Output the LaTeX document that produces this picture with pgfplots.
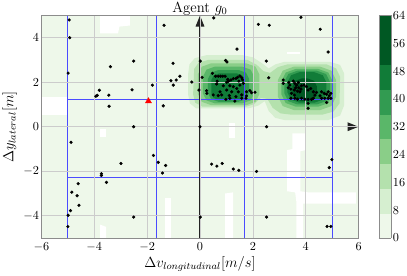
\documentclass[border=0pt]{standalone}
\usepackage{pgfplots}
\pgfplotsset{compat=1.18}
\usetikzlibrary{arrows.meta}
\definecolor{bg}{RGB}{238,248,234}
\definecolor{cA}{RGB}{214,239,208}
\definecolor{cB}{RGB}{180,225,173}
\definecolor{cC}{RGB}{138,206,136}
\definecolor{cD}{RGB}{90,183,105}
\definecolor{cE}{RGB}{50,155,81}
\definecolor{cF}{RGB}{17,124,56}
\definecolor{cG}{RGB}{0,88,35}
\definecolor{lblue}{RGB}{75,75,255}
\definecolor{arrowc}{RGB}{35,35,35}

\begin{document}
\begin{tikzpicture}
\begin{axis}[
  name=ax,
  scale only axis, width=258bp, height=181bp,
  xmin=-6, xmax=6, ymin=-5, ymax=5,
  xtick={-6,-4,...,6}, ytick={-4,-2,...,4},
  grid=major, grid style={black!20, line width=0.5bp},
  axis line style={black!45},
  major tick length=0pt,
  axis on top,
  axis background/.style={fill=bg},
  yticklabel style={xshift=1.5bp},
  title={Agent $g_0$},
  every axis title/.style={at={(axis description cs:0.5,1.0155)}, anchor=base, font=\large},
  xlabel={$\Delta v_{longitudinal}[m/s]$}, ylabel={$\Delta y_{lateral}[m]$},
  every axis x label/.style={at={(axis description cs:0.5,-0.131)}, anchor=base, font=\large},
  every axis y label/.style={at={(axis description cs:-0.0884,0.5)}, anchor=base, rotate=90, font=\large},
  unbounded coords=jump,
  colormap={greens}{rgb255=(238,248,234) rgb255=(214,239,208) rgb255=(180,225,173) rgb255=(138,206,136) rgb255=(90,183,105) rgb255=(50,155,81) rgb255=(17,124,56) rgb255=(0,88,35) rgb255=(0,88,35)},
  colormap access=piecewise constant,
  point meta min=0, point meta max=64,
  colorbar,
  colorbar shift/.style={xshift=16.6bp},
  colorbar style={width=9.8bp, ytick={0,8,...,64}, at={(parent axis.north east)}, anchor=north west, axis line style={black!45}, major tick length=0pt, yticklabel style={xshift=-2bp}},
]
% zero-density (white) patches
\addplot[fill=white, draw=none] coordinates {(-3.78,5) (-2.65,5) (-2.65,4.55) (-3.05,4.5) (-3.1,4.2) (-3.78,4.2)};
\addplot[fill=white, draw=none] coordinates {(-6,1.33) (-5.03,1.33) (-5.03,0.52) (-6,0.52)};
\addplot[fill=white, draw=none] coordinates {(-3.78,-0.1) (-3.55,-0.1) (-3.55,-0.45) (-3.78,-0.45)};
\addplot[fill=white, draw=none] coordinates {(-3.78,-4.4) (-3.55,-4.5) (-3.55,-5) (-3.78,-5)};
\addplot[fill=white, draw=none] coordinates {(-1.32,-3.2) (-1.1,-3.2) (-1.1,-5) (-1.32,-5)};
\addplot[fill=white, draw=none] coordinates {(1.1,0.15) (1.32,0.15) (1.32,-0.5) (1.1,-0.5)};
\addplot[fill=white, draw=none] coordinates {(0.95,-3.0) (1.25,-2.95) (1.25,-5) (0.95,-5)};
\addplot[fill=white, draw=none] coordinates {(3.5,-0.3) (4.0,-0.3) (4.0,-1.05) (3.8,-1.1) (3.8,-2.9) (4.1,-2.95) (5.9,-2.95) (5.9,-3.45) (3.9,-3.45) (3.9,-5) (3.65,-5) (3.65,-3.4) (3.6,-2.95) (3.3,-2.9) (3.3,-1.05) (3.5,-1.0)};
\addplot[fill=white, draw=none] coordinates {(3.3,3.38) (3.8,3.38) (3.8,3.25) (3.3,3.25)};

% density bands, levels 8 and 16 (joined)
\addplot[fill=cA, draw=none] coordinates {(-0.15,0.83) (1.85,0.83) (2.2,0.95) (2.45,1.15) (2.6,0.7) (2.85,0.4) (3.2,0.3) (4.85,0.3) (5.3,0.5) (5.45,0.95) (5.45,2.4) (5.3,2.78) (4.9,2.92) (3.2,2.92) (2.85,2.8) (2.6,2.62) (2.35,2.85) (2.0,3.12) (1.6,3.22) (0.25,3.22) (-0.2,3.08) (-0.4,2.8) (-0.45,2.35) (-0.45,1.45) (-0.38,1.05)};
\addplot[fill=cB, draw=none] coordinates {(0.1,0.9) (1.75,0.9) (2.05,1.02) (2.3,1.3) (2.55,1.25) (2.75,0.85) (3.05,0.6) (3.4,0.55) (4.65,0.55) (5.05,0.68) (5.28,1.05) (5.3,2.25) (5.15,2.62) (4.8,2.8) (3.3,2.8) (2.95,2.68) (2.65,2.42) (2.4,2.5) (2.15,2.78) (1.8,3.0) (0.3,3.0) (-0.05,2.88) (-0.22,2.6) (-0.26,1.45) (-0.18,1.08)};
% blob 1
\addplot[fill=cC, draw=none] coordinates {(0.42,0.97) (1.75,0.97) (2.10,1.12) (2.25,1.47) (2.25,2.35) (2.10,2.70) (1.75,2.85) (0.42,2.85) (0.07,2.70) (-0.08,2.35) (-0.08,1.47) (0.07,1.12)};
\addplot[fill=cD, draw=none] coordinates {(0.56,1.05) (1.60,1.05) (1.915,1.185) (2.05,1.50) (2.05,2.25) (1.915,2.565) (1.60,2.70) (0.56,2.70) (0.245,2.565) (0.11,2.25) (0.11,1.50) (0.245,1.185)};
\addplot[fill=cE, draw=none] coordinates {(0.70,1.12) (1.46,1.12) (1.74,1.24) (1.86,1.52) (1.86,2.15) (1.74,2.43) (1.46,2.55) (0.70,2.55) (0.42,2.43) (0.30,2.15) (0.30,1.52) (0.42,1.24)};
\addplot[fill=cF, draw=none] coordinates {(0.73,1.20) (1.39,1.20) (1.60,1.29) (1.69,1.50) (1.69,2.10) (1.60,2.31) (1.39,2.40) (0.73,2.40) (0.52,2.31) (0.43,2.10) (0.43,1.50) (0.52,1.29)};
% blob 2
\addplot[fill=cC, draw=none] coordinates {(3.55,0.75) (4.55,0.75) (4.97,0.93) (5.15,1.35) (5.15,2.10) (4.97,2.52) (4.55,2.70) (3.55,2.70) (3.13,2.52) (2.95,2.10) (2.95,1.35) (3.13,0.93)};
\addplot[fill=cD, draw=none] coordinates {(3.63,0.90) (4.47,0.90) (4.855,1.065) (5.02,1.45) (5.02,2.05) (4.855,2.435) (4.47,2.60) (3.63,2.60) (3.245,2.435) (3.08,2.05) (3.08,1.45) (3.245,1.065)};
\addplot[fill=cE, draw=none] coordinates {(3.69,1.00) (4.42,1.00) (4.77,1.15) (4.92,1.50) (4.92,2.02) (4.77,2.37) (4.42,2.52) (3.69,2.52) (3.34,2.37) (3.19,2.02) (3.19,1.50) (3.34,1.15)};
\addplot[fill=cF, draw=none] coordinates {(3.76,1.08) (4.33,1.08) (4.645,1.215) (4.78,1.53) (4.78,2.00) (4.645,2.315) (4.33,2.45) (3.76,2.45) (3.445,2.315) (3.31,2.00) (3.31,1.53) (3.445,1.215)};
\addplot[fill=cG, draw=none] coordinates {(3.85,1.15) (4.07,1.15) (4.315,1.255) (4.42,1.50) (4.42,1.82) (4.315,2.065) (4.07,2.17) (3.85,2.17) (3.605,2.065) (3.50,1.82) (3.50,1.50) (3.605,1.255)};

\addplot[draw=lblue, line width=0.85bp] coordinates {
(-5,-5) (-5,5) (nan,nan)
(-1.66,-5) (-1.66,5) (nan,nan)
(1.67,-5) (1.67,5) (nan,nan)
(5.02,-5) (5.02,5) (nan,nan)
(-5,1.23) (5.02,1.23) (nan,nan)
(-5,-2.29) (5.02,-2.29)
};

\addplot[draw=arrowc, line width=1.1bp, -{Triangle[length=9bp,width=7bp]}] coordinates {(0,-5) (0,5)};
\addplot[draw=arrowc, line width=1.1bp, -{Triangle[length=9bp,width=7bp]}] coordinates {(-6,0) (6,0)};

\addplot[only marks, mark=*, mark size=1.1bp, black] coordinates {
(-4.95,4.80) (-4.93,4.00) (-4.99,2.41) (-3.39,2.70) (-2.51,2.95) (-3.81,1.64) (-3.89,1.41) (-3.94,1.37) (-3.45,1.42) (-2.57,1.66) (-1.80,1.87) (-3.44,0.92) (-1.39,0.94) (-2.51,0.00) (-1.36,4.56) (-1.02,2.85) (-1.10,2.07) (-0.90,2.10) (-1.01,1.87) (-0.76,2.27) (-0.31,2.01) (-0.04,1.65) (0.01,2.95) (0.08,2.22) (0.26,1.50) (0.0,0.0)
(0.52,4.89) (3.82,4.92) (2.21,4.60) (2.62,4.56) (4.55,4.38) (1.40,3.49) (4.85,3.36) (0.97,2.98) (1.02,2.91) (2.51,2.95) (2.60,2.20) (2.52,0.0)
(0.47,2.40) (0.59,2.27) (0.69,2.27) (0.78,2.27) (0.86,2.27) (0.95,2.27) (0.65,2.05) (0.63,1.92) (1.05,2.13) (1.01,2.00) (1.08,2.05) (1.17,2.10) (1.26,2.16) (1.36,2.17) (1.42,2.22) (1.51,2.28) (1.58,2.20) (1.61,2.11) (1.47,2.05) (1.51,1.87) (1.64,1.95) (0.88,1.84) (1.13,1.84) (1.26,1.80) (1.39,1.72) (1.01,1.65) (0.76,1.57) (1.20,1.57) (1.45,1.57) (1.76,1.57) (1.89,1.62) (0.25,1.62) (0.50,1.43) (0.69,1.40) (0.82,1.43) (1.11,1.40) (1.36,1.35) (1.58,1.43) (1.76,1.38) (0.98,1.23) (1.13,1.28) (1.32,1.15) (1.58,1.28) (1.74,1.28) (1.95,1.53) (2.08,1.55)
(3.15,2.10) (3.15,1.95) (3.36,1.99) (3.40,1.87) (3.34,1.75) (3.44,1.69) (3.53,2.05) (3.59,1.95) (3.66,1.87) (3.72,1.99) (3.62,1.75) (3.74,1.75) (3.57,1.65) (3.69,1.60) (3.78,1.57) (3.82,1.69) (3.84,1.84) (3.46,1.50) (3.57,1.42) (3.44,1.28) (3.59,1.28) (3.69,1.24) (3.84,1.28) (3.97,1.24) (4.09,1.23) (4.22,1.23) (4.29,1.28) (4.09,1.05) (4.09,0.83) (3.94,1.87) (4.03,1.80) (4.09,1.65) (4.19,1.72) (4.29,1.57) (4.35,1.42) (4.41,1.54) (4.54,1.39) (4.60,1.57) (4.70,1.50) (4.79,1.46) (4.85,1.57) (4.89,1.39) (4.72,1.28) (4.85,1.28) (4.60,1.28) (4.79,1.09) (4.95,1.50) (4.95,1.28)
(-4.88,-0.70) (-1.76,-1.29) (-1.58,-1.60) (-1.30,-1.74) (-1.42,-2.08) (-2.99,-1.65) (-3.73,-2.11) (-3.73,-2.19) (-3.54,-2.50) (-4.61,-2.56) (-4.85,-2.94) (-4.65,-3.10) (-4.58,-3.53) (-4.90,-3.77) (-4.99,-3.98) (-5.00,-4.49) (-2.51,-4.06) (0.01,-4.06) (0.44,-1.68) (0.64,-1.77) (0.84,-1.65) (1.26,-1.90) (1.47,-1.96) (2.14,-2.01) (4.89,-1.84) (4.99,-1.48) (2.52,-4.06) (4.81,-4.48) (4.95,-4.48)
};
\addplot[only marks, mark=triangle*, mark size=2.8bp, red] coordinates {(-1.95,1.15)};
\end{axis}
\pgfresetboundingbox
\path[use as bounding box] ([xshift=-33.7bp, yshift=-30.3bp]ax.south west) rectangle ([xshift=39.4bp, yshift=12.6bp]ax.north east);
\end{tikzpicture}
\end{document}
